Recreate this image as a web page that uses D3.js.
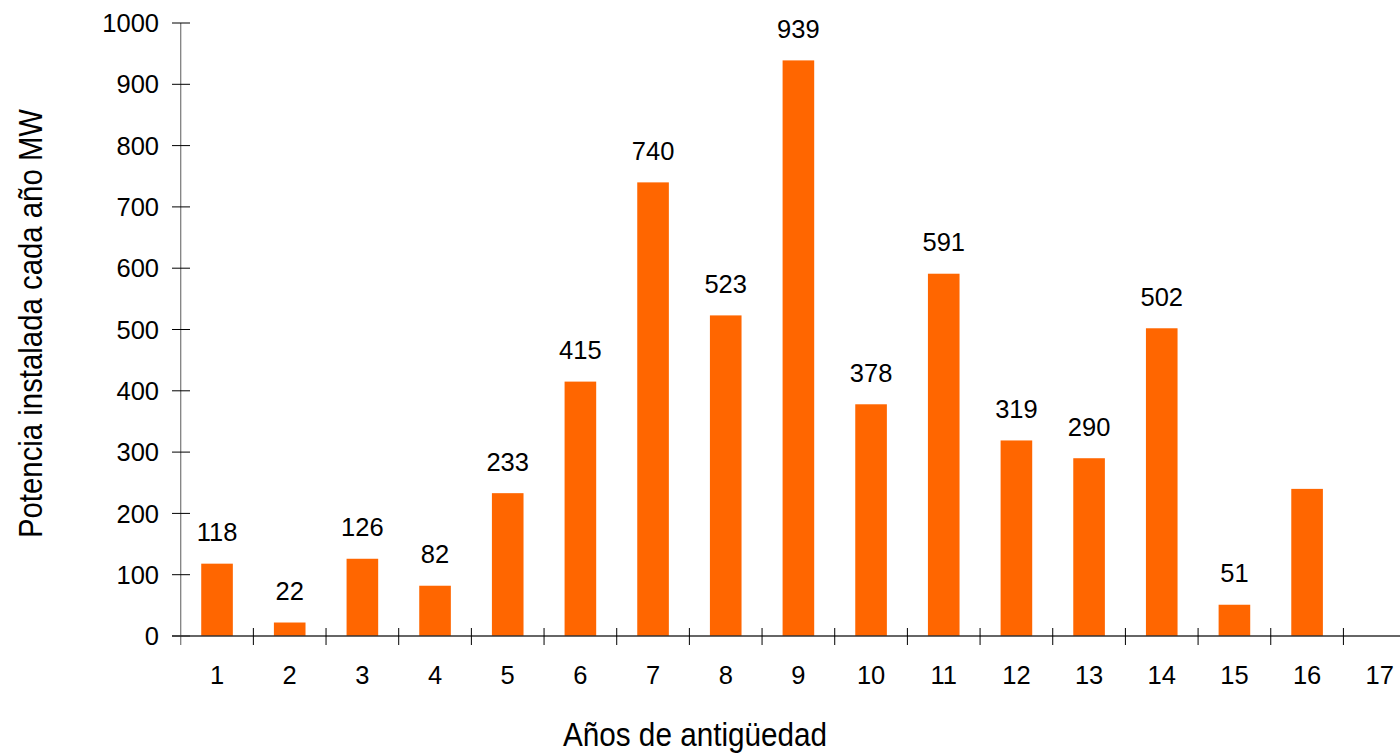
<!DOCTYPE html>
<html><head><meta charset="utf-8">
<script src="https://cdn.jsdelivr.net/npm/d3@7"></script>
<style>
html,body{margin:0;padding:0;background:#fff;}
svg{display:block;font-family:"Liberation Sans",Arial,sans-serif;}
</style></head>
<body>
<svg id="chart" width="1400" height="753"></svg>
<script>
const categories = ["1","2","3","4","5","6","7","8","9","10","11","12","13","14","15","16","17"];
const values = [118,22,126,82,233,415,740,523,939,378,591,319,290,502,51,240,null];
const valueLabels = ["118","22","126","82","233","415","740","523","939","378","591","319","290","502","51","",""];
const yTicks = [0,100,200,300,400,500,600,700,800,900,1000];
const yTitle = "Potencia instalada cada año MW";
const xTitle = "Años de antigüedad";

const svg = d3.select("#chart");
const x0 = 180.7, step = 72.67;
const x = d3.scaleBand().domain(categories).range([x0, x0 + step*categories.length]).paddingInner(0.565).paddingOuter(0.2825);
const xb = d3.scaleBand().domain(categories).range([x0, x0 + step*categories.length]).padding(0);
const y = d3.scaleLinear().domain([0,1000]).range([636,23]);

const rows = categories.map((c,i)=>({c, v: values[i], l: valueLabels[i]}));

// bars
svg.append("g").selectAll("rect").data(rows.filter(d=>d.v!=null))
  .join("rect")
  .attr("x", d=>x(d.c)).attr("width", x.bandwidth())
  .attr("y", d=>y(d.v)).attr("height", d=>y(0)-y(d.v))
  .attr("fill", "#FF6600");

// value labels
svg.append("g").selectAll("text").data(rows.filter(d=>d.v!=null && d.l))
  .join("text")
  .attr("x", d=>x(d.c)+x.bandwidth()/2).attr("y", d=>y(d.v)-22.5)
  .attr("text-anchor","middle").attr("font-size","25.5px").attr("fill","#000")
  .text(d=>d.l);

// y axis
const yAxis = svg.append("g");
yAxis.append("line").attr("x1",x0).attr("x2",x0).attr("y1",y(1000)).attr("y2",645).attr("stroke","#808080").attr("stroke-width",1.3);
yAxis.selectAll("line.tk").data(yTicks).join("line").attr("class","tk")
  .attr("x1",172).attr("x2",190).attr("y1",d=>y(d)).attr("y2",d=>y(d)).attr("stroke","#000").attr("stroke-width",1);
yAxis.selectAll("text").data(yTicks).join("text")
  .attr("x",159).attr("y",d=>y(d)).attr("dy","0.36em").attr("text-anchor","end")
  .attr("font-size","25.5px").attr("fill","#000").text(d=>d);

// x axis
const xAxis = svg.append("g");
xAxis.append("line").attr("x1",172).attr("x2",1400).attr("y1",y(0)).attr("y2",y(0)).attr("stroke","#333").attr("stroke-width",1.3);
xAxis.selectAll("line.tk").data(categories.map((c,i)=>x0+step*(i+1)))
  .join("line").attr("class","tk")
  .attr("x1",d=>d).attr("x2",d=>d).attr("y1",628).attr("y2",645).attr("stroke","#000").attr("stroke-width",1);
xAxis.selectAll("text").data(categories).join("text")
  .attr("x",d=>xb(d)+xb.bandwidth()/2).attr("y",684)
  .attr("text-anchor","middle").attr("font-size","25.5px").attr("fill","#000").text(d=>d);

// titles
svg.append("text").attr("transform","translate(695,746) scale(0.9,1)").attr("text-anchor","middle")
  .attr("font-size","33px").attr("fill","#000").text(xTitle);
svg.append("text").attr("transform","translate(41.5,323.5) rotate(-90) scale(0.89,1)").attr("text-anchor","middle")
  .attr("font-size","33px").attr("fill","#000").text(yTitle);
</script>
</body></html>
